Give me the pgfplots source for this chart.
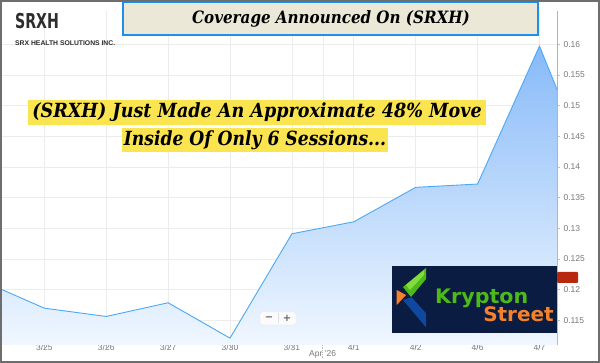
\documentclass[border=0pt]{standalone}
\usepackage{pgfplots}
\pgfplotsset{compat=1.18}
\usepackage{pgfplotstable}
\usepackage{fontspec}
\setmainfont{Liberation Sans}
\newfontfamily\djserif{DejaVu Serif}
\newfontfamily\djsans{DejaVu Sans}
\definecolor{linec}{RGB}{77,168,245}
\definecolor{filltop}{RGB}{135,186,248}
\definecolor{fillbot}{RGB}{240,247,255}
\definecolor{tickc}{RGB}{120,120,120}
\definecolor{gridc}{RGB}{236,236,236}
\definecolor{hl}{RGB}{250,228,80}
\definecolor{beige}{RGB}{235,232,216}
\definecolor{boxblue}{RGB}{30,144,235}
\definecolor{navy}{RGB}{11,28,66}
\definecolor{kgreen}{RGB}{76,187,23}
\definecolor{kgreenl}{RGB}{130,220,60}
\definecolor{korange}{RGB}{245,130,42}
\definecolor{kblue}{RGB}{16,72,160}
\definecolor{mred}{RGB}{183,40,14}
\definecolor{frame}{RGB}{110,110,110}
\definecolor{titlec}{RGB}{45,45,45}

\pgfplotstableread{
x y
-1 0.12142
0 0.11700
1 0.11565
2 0.11788
3 0.11212
4 0.12912
5 0.13107
6 0.13668
7 0.13722
8 0.15969
9 0.13477
}\prices

\begin{document}
\begin{tikzpicture}[x=1pt,y=1pt]
\useasboundingbox (0,0) rectangle (600,363);
\fill[white] (0,0) rectangle (600,363);
\begin{axis}[
  at={(0,29.7)}, anchor=south west,
  scale only axis, width=557pt, height=333.3pt,
  xmin=-0.716, xmax=8.283, ymin=0.11104, ymax=0.16533,
  axis x line*=bottom, axis y line*=right,
  axis line style={draw=gray!60, line width=0.8pt},
  xtick={0,...,8},
  xticklabels={3/25,3/26,3/27,3/30,3/31,4/1,4/2,4/6,4/7},
  ytick={0.115,0.12,0.125,0.13,0.135,0.14,0.145,0.15,0.155,0.16},
  extra x ticks={4.5},
  extra x tick labels={},
  extra x tick style={grid style={draw=gray!28, line width=1.2pt}, major tick length=0pt},
  grid=major,
  major grid style={draw=gridc, line width=0.7pt},
  tick align=outside,
  major tick length=3pt,
  tick style={draw=gray!50, line width=0.6pt},
  /pgf/number format/assume math mode=true,
  scaled y ticks=false,
  yticklabel style={font=\fontsize{8.5}{10}\selectfont, text=tickc,
    /pgf/number format/fixed, /pgf/number format/precision=3, xshift=0pt},
  xticklabel style={font=\fontsize{8.5}{10}\selectfont, text=tickc, yshift=7pt},
]
\addplot[draw=none, top color=filltop, bottom color=fillbot]
  table[x=x,y=y]{\prices} -- (axis cs:9,0.11104) -- (axis cs:-1,0.11104) -- cycle;
\addplot[color=linec, line width=0.9pt, mark=none] table[x=x,y=y]{\prices};
\coordinate (sep) at (axis cs:4.5,0.11104);
\end{axis}
% separator below axis
\draw[gray!50, densely dotted, line width=0.8pt] (sep) -- ++(0,-13);
\node[font=\fontsize{8.5}{10}\selectfont, text=tickc] at (322.7,9) {Apr '26};
% zoom buttons
\draw[rounded corners=1.5pt, fill=white!97!gray, draw=gray!20] (260,38) rectangle (296,51);
\draw[gray!25] (278,39.5) -- (278,49.5);
\node[font=\bfseries\fontsize{10}{10}\selectfont, text=gray!80!black] at (269,44.5) {\djsans −};
\node[font=\bfseries\fontsize{10}{10}\selectfont, text=gray!80!black] at (287,44.5) {\djsans +};
% red price marker
\fill[mred, rounded corners=1pt] (557,80) rectangle (578,91);
% title texts
\node[anchor=base west, inner sep=0, text=titlec, font=\djsans\bfseries\fontsize{20.5}{21}\selectfont, xscale=0.69] at (15,334.7) {SRXH};
\node[anchor=base west, inner sep=0, text=titlec, font=\bfseries\fontsize{6.8}{7}\selectfont] at (15,317.7) {SRX HEALTH SOLUTIONS INC.};
% coverage box
\draw[fill=beige, draw=boxblue, line width=2.2pt] (123,328) rectangle (538,361);
\node[font=\djserif\bfseries\itshape\fontsize{17}{18}\selectfont, text=black, xscale=0.89] at (331,344.5) {Coverage Announced On (SRXH)};
% highlights
\fill[hl] (28,238) rectangle (486,263);
\fill[hl] (122,211) rectangle (388,235);
\node[font=\djserif\bfseries\itshape\fontsize{19.5}{20}\selectfont, text=black, xscale=0.9] at (257,250.5) {(SRXH) Just Made An Approximate 48\% Move};
\node[font=\djserif\bfseries\itshape\fontsize{19.5}{20}\selectfont, text=black, xscale=0.88] at (255,223) {Inside Of Only 6 Sessions...};
% logo
\fill[navy] (392,30) rectangle (557,97);
\fill[kgreen] (403,76) -- (426,95) -- (426,84) -- (411,66) -- cycle;
\fill[kgreenl] (406,78) -- (424,93) -- (424,88) -- (410,73) -- cycle;
\fill[korange] (396.7,73) -- (406,68) -- (396.7,58) -- cycle;
\fill[kblue] (403,63) -- (411.7,65.7) -- (426,49.7) -- (426,35.7) -- cycle;
\node[anchor=base west, inner sep=0, text=kgreen, font=\djsans\bfseries\fontsize{20}{20}\selectfont, xscale=1.03] at (435,59) {Krypton};
\node[anchor=base east, inner sep=0, text=korange, font=\djsans\bfseries\fontsize{20}{20}\selectfont] at (554,41.3) {Street};
% frame
\draw[frame, line width=2pt] (1,1) rectangle (599,362);
\end{tikzpicture}
\end{document}
